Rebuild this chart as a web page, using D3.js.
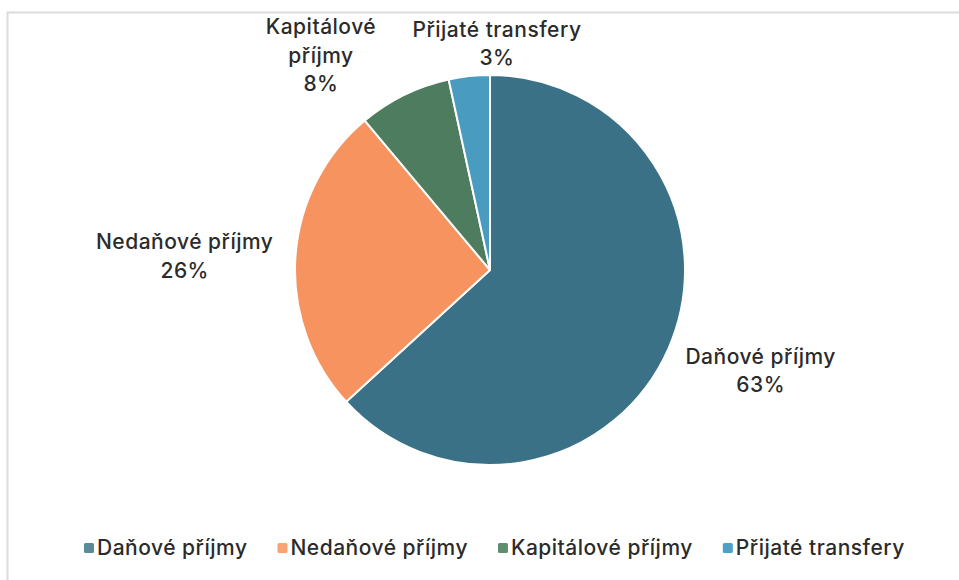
<!DOCTYPE html>
<html>
<head>
<meta charset="utf-8">
<script src="https://cdn.jsdelivr.net/npm/d3@7"></script>
<style>
  html, body { margin: 0; padding: 0; background: #fff; }
  svg { display: block; }
  text { font-family: Inter, "Noto Sans", sans-serif; font-weight: 500; fill: #2b2b2b; letter-spacing: 0.5px; }
</style>
</head>
<body>
<svg id="chart" width="959" height="580"></svg>
<script>
// slices, clockwise from 12 o'clock
var categories = ['Daňové příjmy', 'Nedaňové příjmy', 'Kapitálové příjmy', 'Přijaté transfery'];
var shares = [63.2, 25.7, 7.7, 3.4];
var labelLines = [['Daňové příjmy'], ['Nedaňové příjmy'], ['Kapitálové', 'příjmy'], ['Přijaté transfery']];
var sliceColors = ['#3b7186', '#f6935f', '#4d7d5e', '#4a9bc0'];
var legendColors = ['#5b8b9b', '#f8a374', '#5e8e6f', '#4fa0c8'];

var svg = d3.select('#chart'),
    cx = 490, cy = 270, R = 195,
    fontSize = 21;

// frame (right/bottom edges run off the picture)
svg.append('rect')
    .attr('x', 7.5).attr('y', 12.5)
    .attr('width', 1000).attr('height', 700)
    .attr('fill', '#fff')
    .attr('stroke', '#dcdcdc')
    .attr('stroke-width', 2);

var data = categories.map(function(c, i) {
    return { name: c, value: shares[i], color: sliceColors[i], lines: labelLines[i] };
});

var pie = d3.pie().sort(null).value(function(d) { return d.value; });
var arc = d3.arc().innerRadius(0).outerRadius(R);
var arcs = pie(data);

var g = svg.append('g').attr('transform', 'translate(' + cx + ',' + cy + ')');

g.selectAll('path.slice')
    .data(arcs)
    .enter().append('path')
    .attr('class', 'slice')
    .attr('d', arc)
    .attr('fill', function(d) { return d.data.color; })
    .attr('stroke', '#fff')
    .attr('stroke-width', 2)
    .attr('stroke-linejoin', 'round');

// data labels - outside, Excel "best fit" style
var labelArc = d3.arc().innerRadius(R + 12).outerRadius(R + 12);
var lineH = 28.5;
// small nudges where Excel shoves labels aside
var nudge = [[6, 17], [-10, 0], [-78, 14], [29, 8]];

arcs.forEach(function(d, i) {
    var p = labelArc.centroid(d),
        lines = d.data.lines.concat([Math.round(d.data.value) + '%']),
        mid = (d.startAngle + d.endAngle) / 2,
        anchor, x, yTop;

    if (Math.cos(mid) > 0.8) {           // near the top: block sits above the point
        anchor = 'middle';
        yTop = p[1] - lines.length * lineH;
    } else {
        anchor = Math.sin(mid) > 0 ? 'start' : 'end';
        yTop = p[1] - lines.length * lineH / 2;
    }
    x = p[0] + nudge[i][0];
    yTop += nudge[i][1];

    var texts = g.append('g').selectAll('text')
        .data(lines)
        .enter().append('text')
        .attr('font-size', fontSize)
        .attr('y', function(l, k) { return yTop + k * lineH + lineH / 2; })
        .attr('dy', '0.35em')
        .text(function(l) { return l; });
    // lines are centred inside the block
    var wMax = d3.max(texts.nodes(), function(n) { return n.getComputedTextLength(); });
    var centerX = anchor === 'start' ? x + wMax / 2 : anchor === 'end' ? x - wMax / 2 : x;
    texts.attr('x', centerX).attr('text-anchor', 'middle');
});

// legend
var legend = svg.append('g').attr('transform', 'translate(0,548)');
var xPos = 84;
data.forEach(function(d, i) {
    var item = legend.append('g').attr('transform', 'translate(' + xPos + ',0)');
    item.append('rect')
        .attr('x', 0).attr('y', -5)
        .attr('width', 10).attr('height', 10)
        .attr('rx', 1.5)
        .attr('fill', legendColors[i]);
    var t = item.append('text')
        .attr('x', 13)
        .attr('dy', '0.35em')
        .attr('font-size', fontSize)
        .text(d.name);
    xPos += 13 + t.node().getComputedTextLength() + 30;
});
</script>
</body>
</html>
